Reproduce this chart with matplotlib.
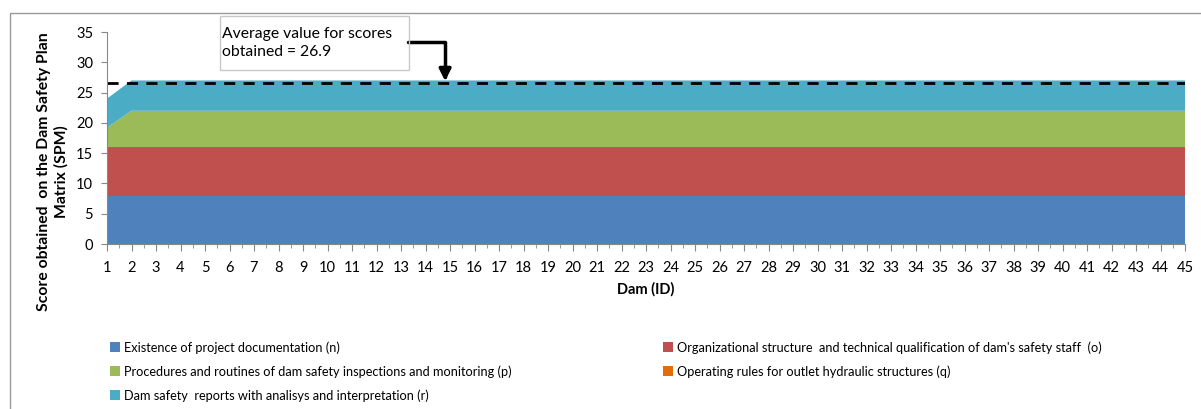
import numpy as np
import matplotlib
matplotlib.use("Agg")
from matplotlib import pyplot as plt
from matplotlib.patches import Rectangle

plt.rcParams['font.family'] = ['Lato', 'DejaVu Sans']

dams = list(range(1, 46))
n_doc = [8] * 45
o_org = [8] * 45
p_proc = [3.2] + [6] * 44
q_oper = [0] * 45
r_rep = [4.8] + [5] * 44
avg_line = 26.6
avg_text = "Average value for scores\nobtained = 26.9"

labels = ["Existence of project documentation (n)",
          "Organizational structure  and technical qualification of dam's safety staff  (o)",
          "Procedures and routines of dam safety inspections and monitoring (p)",
          "Operating rules for outlet hydraulic structures (q)",
          "Dam safety  reports with analisys and interpretation (r)"]
colors = ['#4F81BD', '#C0504D', '#9BBB59', '#E46C0A', '#4BACC6']

W, H = 1201, 409
fig = plt.figure(figsize=(W / 100, H / 100), dpi=100)
ax = fig.add_axes([107 / W, 1 - 244 / H, (1185 - 107) / W, (244 - 32) / H])

polys = ax.stackplot(dams, n_doc, o_org, p_proc, q_oper, r_rep,
                     colors=colors, labels=labels, linewidth=0)
ax.axhline(avg_line, color='black', ls=(0, (4, 3)), lw=2)

ax.set_xlim(1, 45)
ax.set_ylim(0, 35)
ax.set_xticks(dams)
ax.set_xticks(np.arange(1.5, 45, 1), minor=True)
ax.set_yticks(range(0, 36, 5))
ax.tick_params(axis='both', labelsize=10.5, colors='#888888', labelcolor='black')
ax.tick_params(axis='x', which='major', length=5, pad=7)
ax.tick_params(axis='x', which='minor', length=3, colors='#888888')
ax.tick_params(axis='y', length=4, pad=6)
for s in ['top', 'right']:
    ax.spines[s].set_visible(False)
for s in ['left', 'bottom']:
    ax.spines[s].set_color('#888888')

ax.set_xlabel('Dam (ID)', fontsize=10.5, fontweight='bold', labelpad=5)
ax.set_ylabel('Score obtained  on the Dam Safety Plan\nMatrix (SPM)', fontsize=11.3,
              fontweight='bold', linespacing=1.25)
ax.yaxis.set_label_coords((53 - 107) / 1078, (244 - 172) / 212)
ax.yaxis.label.set_va('center')

# annotation box + arrow
fig.patches.append(Rectangle((220 / W, 1 - 70 / H), 189 / W, 54 / H,
                             transform=fig.transFigure, fill=False,
                             edgecolor='#C8C8C8', lw=1))
fig.text(222 / W, 1 - 43 / H, avg_text, fontsize=11.3, va='center',
         linespacing=1.45)
ax.annotate('', xy=(14.8, 26.9), xytext=(13.3, 33.3),
            arrowprops=dict(arrowstyle='-|>,head_width=0.35,head_length=0.7',
                            connectionstyle='angle,angleA=0,angleB=90,rad=0',
                            color='black', lw=2.5, shrinkA=0, shrinkB=0))

# outer chart frame
fig.patches.append(Rectangle((10 / W, -0.1), 1.2, 1 - 13 / H + 0.1,
                             transform=fig.transFigure, fill=False,
                             edgecolor='#999999', lw=1))

order = [0, 2, 4, 1, 3]
handles, labs = ax.get_legend_handles_labels()
fig.legend([handles[i] for i in order], [labs[i] for i in order], ncol=2,
           loc='upper left', bbox_to_anchor=(105 / W, 1 - 336 / H),
           frameon=False, fontsize=9.2, handlelength=0.8, handleheight=0.8,
           handletextpad=0.3, columnspacing=11.8, labelspacing=0.9,
           borderaxespad=0)

fig.savefig('out.png', dpi=100)
